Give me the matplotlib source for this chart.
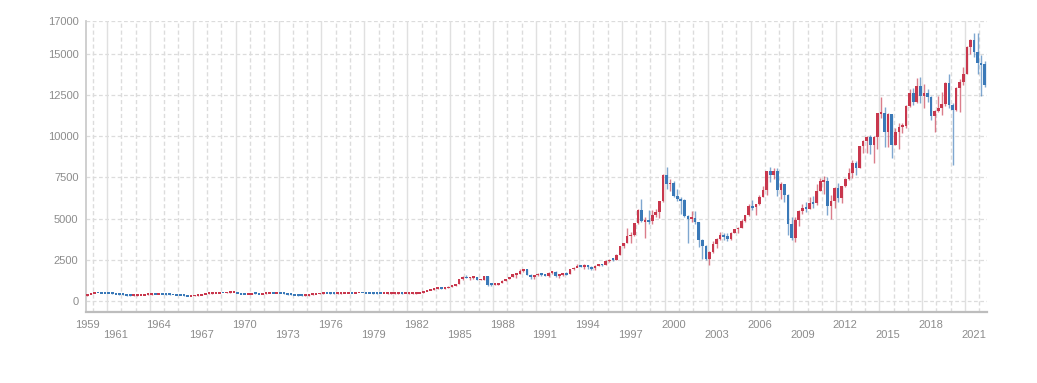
import matplotlib
matplotlib.use("Agg")
import matplotlib.pyplot as plt
from matplotlib.transforms import blended_transform_factory

# ------- data: 3-month candles (Mar-May, Jun-Aug, Sep-Nov, Dec-Feb), Sep 1959 .. Jun 2022 -------
first_open = 330
close = [
    400, 480,                      # 1959 Sep-Nov, Dec-Feb
    500, 490, 485, 475,            # 1960
    470, 440, 410, 400,            # 1961
    380, 330, 320, 340,            # 1962
    345, 360, 380, 395,            # 1963
    410, 405, 410, 400,            # 1964
    395, 385, 370, 355,            # 1965
    350, 320, 290, 305,            # 1966
    330, 360, 400, 440,            # 1967
    450, 470, 480, 500,            # 1968
    490, 510, 540, 560,            # 1969
    480, 420, 410, 420,            # 1970
    450, 440, 420, 440,            # 1971
    480, 490, 470, 490,            # 1972
    470, 440, 400, 380,            # 1973
    360, 340, 320, 330,            # 1974
    390, 420, 430, 460,            # 1975
    480, 470, 460, 450,            # 1976
    460, 470, 470, 490,            # 1977
    480, 490, 500, 495,            # 1978
    480, 470, 460, 450,            # 1979
    440, 440, 450, 450,            # 1980
    450, 460, 440, 445,            # 1981
    450, 460, 470, 520,            # 1982
    600, 650, 690, 760,            # 1983
    760, 740, 770, 880,            # 1984
    960, 1040, 1330, 1480,         # 1985
    1400, 1430, 1440, 1280,        # 1986
    1290, 1500, 1000, 990,         # 1987
    1010, 1100, 1240, 1330,        # 1988
    1450, 1620, 1630, 1820,        # 1989
    1940, 1600, 1430, 1580,        # 1990
    1620, 1600, 1530, 1720,        # 1991
    1780, 1530, 1570, 1710,        # 1992
    1623, 1950, 2044, 2146,        # 1993
    2091, 2183, 2040, 1985,        # 1994
    2144, 2230, 2195, 2432,        # 1995
    2520, 2518, 2817, 3311,        # 1996
    3515, 3951, 4011, 4710,        # 1997
    5543, 4834, 4889, 4849,        # 1998
    5222, 5394, 6090, 7644,        # 1999
    7109, 7188, 6372, 6208,        # 2000
    6123, 5188, 4990, 5039,        # 2001
    4818, 3712, 3320, 2547,        # 2002
    2983, 3484, 3746, 4018,        # 2003
    3921, 3785, 4126, 4350,        # 2004
    4460, 4829, 5193, 5797,        # 2005
    5692, 5860, 6309, 6716,        # 2006
    7884, 7638, 7871, 6748,        # 2007
    7097, 6422, 4669, 3844,        # 2008
    4941, 5458, 5625, 5598,        # 2009
    5965, 5925, 6688, 7272,        # 2010
    7294, 5785, 6089, 6856,        # 2011
    6264, 6970, 7406, 7741,        # 2012
    8349, 8103, 9405, 9692,        # 2013
    9943, 9470, 9980, 11402,       # 2014
    11414, 10259, 11382, 9495,     # 2015
    10263, 10593, 10640, 11834,    # 2016
    12615, 12056, 13024, 12436,    # 2017
    12605, 12364, 11257, 11516,    # 2018
    11727, 11939, 13236, 11890,    # 2019
    11587, 12945, 13291, 13786,    # 2020
    15421, 15835, 15100, 14461,    # 2021
    14388, 13100,                  # 2022 Mar-May, Jun
]
high = [
    410, 495,
    515, 510, 505, 495,
    485, 475, 450, 420,
    410, 385, 340, 350,
    355, 370, 390, 405,
    420, 420, 420, 415,
    410, 400, 390, 375,
    365, 355, 325, 310,
    335, 365, 405, 445,
    460, 480, 490, 510,
    510, 520, 550, 575,
    565, 490, 430, 430,
    460, 460, 445, 450,
    490, 500, 495, 500,
    500, 480, 450, 410,
    390, 370, 350, 340,
    395, 430, 440, 470,
    490, 490, 480, 470,
    470, 480, 485, 500,
    495, 495, 510, 510,
    500, 490, 480, 470,
    455, 450, 460, 460,
    460, 470, 465, 455,
    460, 470, 480, 525,
    610, 660, 700, 770,
    780, 780, 780, 890,
    980, 1060, 1340, 1490,
    1560, 1470, 1470, 1450,
    1350, 1530, 1520, 1030,
    1030, 1120, 1260, 1360,
    1470, 1640, 1660, 1970,
    1960, 1970, 1620, 1600,
    1680, 1660, 1640, 1740,
    1810, 1800, 1600, 1720,
    1750, 1960, 2090, 2270,
    2170, 2220, 2200, 2120,
    2160, 2270, 2250, 2480,
    2560, 2600, 2830, 3320,
    3550, 4440, 4200, 4720,
    5600, 6220, 5100, 5500,
    5500, 5580, 6100, 7700,
    8136, 7400, 7300, 6800,
    6300, 6200, 5200, 5460,
    5460, 4800, 3750, 3400,
    3050, 3650, 3800, 4160,
    4100, 4150, 4200, 4400,
    4470, 4980, 5230, 5890,
    6160, 5880, 6450, 7000,
    7900, 8150, 8100, 8100,
    7250, 7100, 6500, 5100,
    5080, 5500, 5900, 6030,
    6340, 6390, 7080, 7440,
    7600, 7530, 6430, 6950,
    7190, 7000, 7480, 8080,
    8560, 8500, 9440, 9800,
    9990, 10050, 10000, 11420,
    12390, 11800, 11430, 11300,
    10480, 10800, 10800, 11900,
    12850, 12950, 13530, 13600,
    13200, 12890, 12460, 11600,
    12440, 12660, 13300, 13800,
    12000, 13000, 13460, 14200,
    15500, 15900, 16290, 16285,
    14950, 14600,
]
low = [
    320, 395,
    470, 480, 470, 465,
    460, 435, 400, 390,
    370, 320, 300, 315,
    330, 340, 355, 375,
    390, 395, 395, 395,
    385, 375, 360, 345,
    340, 310, 280, 285,
    300, 325, 355, 395,
    430, 445, 465, 475,
    480, 485, 505, 530,
    470, 400, 395, 400,
    415, 430, 410, 415,
    435, 470, 460, 465,
    460, 430, 390, 370,
    350, 330, 305, 310,
    325, 385, 410, 425,
    455, 460, 450, 440,
    445, 455, 460, 465,
    475, 475, 485, 485,
    470, 460, 450, 440,
    430, 430, 435, 440,
    440, 445, 430, 435,
    440, 445, 450, 465,
    515, 590, 640, 680,
    740, 720, 730, 760,
    860, 940, 1030, 1300,
    1380, 1300, 1330, 1250,
    1250, 1280, 930, 920,
    950, 1000, 1080, 1230,
    1320, 1440, 1400, 1620,
    1770, 1550, 1330, 1320,
    1520, 1520, 1490, 1480,
    1660, 1480, 1420, 1510,
    1590, 1620, 1890, 2050,
    2040, 1950, 1960, 1910,
    1910, 2130, 2130, 2180,
    2390, 2400, 2500, 2800,
    3200, 3500, 3500, 3940,
    4700, 4800, 3830, 4650,
    4700, 5080, 5050, 6000,
    6800, 6700, 6300, 6100,
    5300, 5100, 3540, 4800,
    4700, 3250, 2520, 2500,
    2200, 2900, 3200, 3700,
    3690, 3620, 3700, 4100,
    4150, 4430, 4790, 5180,
    5500, 5240, 5800, 6300,
    6440, 7240, 7400, 6380,
    6170, 6000, 4010, 3700,
    3590, 4570, 5300, 5430,
    5610, 5620, 5800, 6650,
    6510, 5250, 4960, 5650,
    6000, 5920, 6950, 7350,
    7460, 7650, 8100, 8990,
    9000, 8900, 8350, 9200,
    11100, 9340, 9330, 8700,
    9500, 9200, 10170, 10500,
    11800, 11870, 12000, 12000,
    11730, 12100, 11000, 10280,
    11500, 11270, 11850, 11700,
    8256, 11530, 11450, 13100,
    13800, 15000, 14800, 13800,
    12439, 13000,
]

label_years = [1959, 1961, 1964, 1967, 1970, 1973, 1976, 1979, 1982, 1985, 1988,
               1991, 1994, 1997, 2000, 2003, 2006, 2009, 2012, 2015, 2018, 2021]
y_ticks = [0, 2500, 5000, 7500, 10000, 12500, 15000, 17000]
first_year = 1959   # first candle: Sep-Nov 1959 (third period of the year)

# ---------------- figure ----------------
W, H = 1037, 383
fig = plt.figure(figsize=(W / 100, H / 100), dpi=100)
ax = fig.add_axes([85.5 / W, (H - 312) / H, (986.5 - 85.5) / W, (312 - 21) / H])

n = len(close)
opens = [first_open] + close[:-1]
xs = list(range(n))
RED, BLUE = "#c8374d", "#3a79b8"
cols = [RED if c >= o else BLUE for o, c in zip(opens, close)]

ax.vlines(xs, low, high, colors=cols, linewidth=1.0, alpha=0.65, zorder=3)
bottoms = [min(o, c) - 30 if abs(c - o) < 110 else min(o, c) for o, c in zip(opens, close)]
heights = [max(abs(c - o), 110) for o, c in zip(opens, close)]
ax.bar(xs, heights, bottom=bottoms, width=0.74, color=cols, linewidth=0, zorder=4)

ax.set_xlim(-0.5, n - 0.5)
ax.set_ylim(-668, 17000)

# grid
grid_col = "#dcdcdc"
for v in y_ticks:
    ax.axhline(v, color=grid_col, linewidth=0.9, linestyle=(0, (3, 2)), zorder=1)
for yr in range(first_year + 1, 2023):
    gx = (yr - first_year) * 4 - 2.5
    solid = yr in label_years
    ax.axvline(gx, color="#e0e0e0" if solid else grid_col, linewidth=1.0,
               linestyle="-" if solid else (0, (3, 2)), zorder=1)

ax.set_xticks([])
ax.set_yticks(y_ticks)
ax.set_yticklabels([str(v) for v in y_ticks])
ax.tick_params(axis="y", length=0, pad=5, labelsize=8, labelcolor="#8c8c8c")
for lbl in ax.get_yticklabels():
    lbl.set_fontfamily("Liberation Sans")

for s in ["top", "right"]:
    ax.spines[s].set_visible(False)
ax.spines["left"].set_color("#cccccc")
ax.spines["left"].set_linewidth(1.3)
ax.spines["bottom"].set_color("#bdbdbd")
ax.spines["bottom"].set_linewidth(1.6)

trans = blended_transform_factory(ax.transData, ax.transAxes)
for k, yr in enumerate(label_years):
    xi = (yr - first_year) * 4
    dy = -13 if k % 2 == 0 else -22.5
    ax.annotate(str(yr), xy=(xi, 0), xycoords=trans, xytext=(0, dy * 0.72),
                textcoords="offset points", ha="center", va="center",
                fontsize=8, color="#8c8c8c", family="Liberation Sans",
                annotation_clip=False)

fig.savefig("out.png", dpi=100)
